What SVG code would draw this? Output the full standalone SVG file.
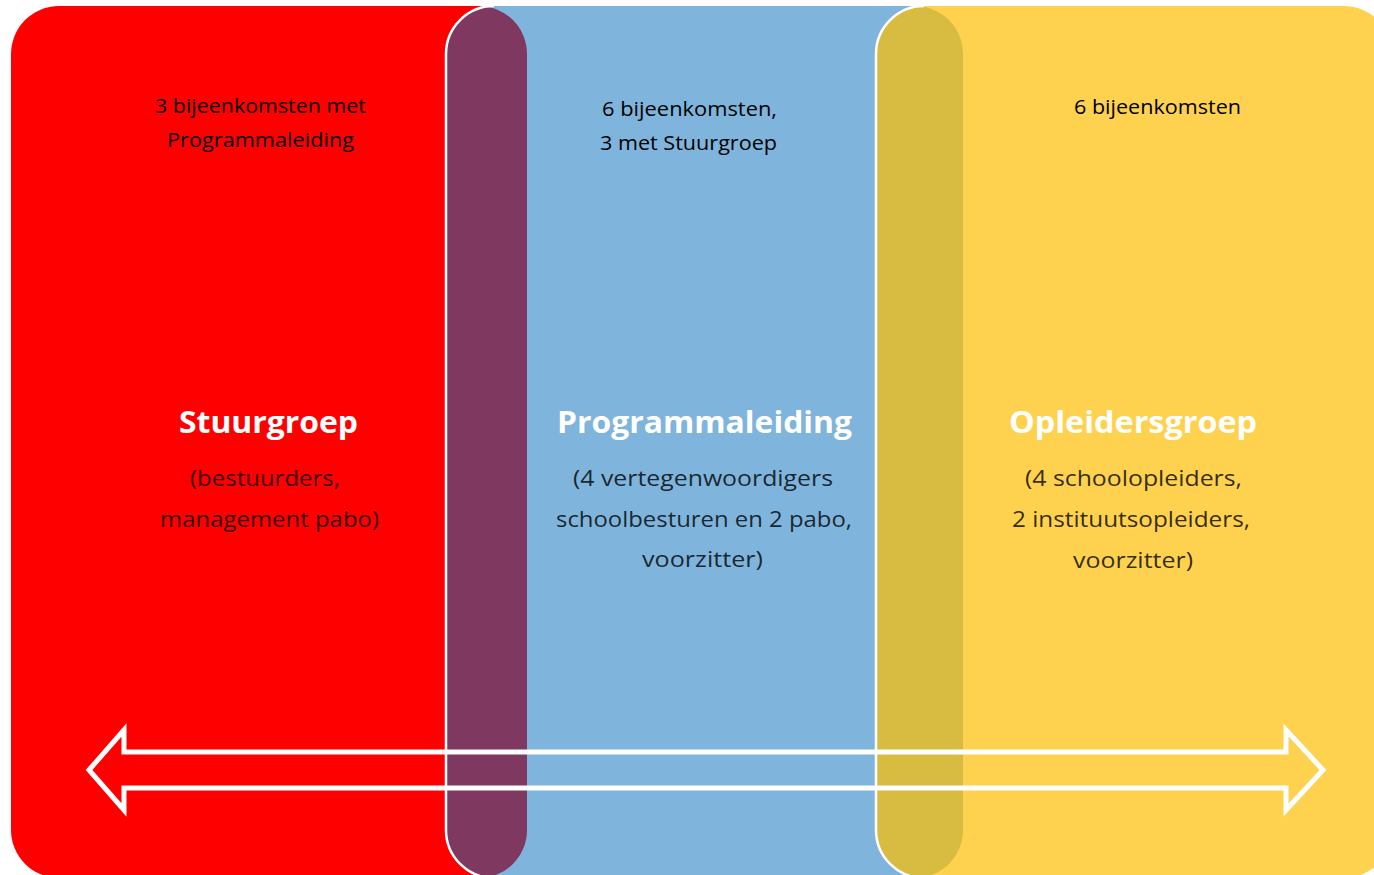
<svg xmlns="http://www.w3.org/2000/svg" width="1374" height="875" viewBox="0 0 1374 875">
  <style>
    .small { font-family: "Open Sans", "Liberation Sans", sans-serif; font-size: 20px; fill: #000; }
    .title { font-family: "Open Sans", "Liberation Sans", sans-serif; font-size: 30px; font-weight: bold; fill: #fff; }
    .sub { font-family: "Open Sans", "Liberation Sans", sans-serif; font-size: 22px; fill: #000; fill-opacity: 0.8; }
    .edge { fill: none; stroke: #fff; stroke-width: 2.5; }
  </style>
  <defs>
    <clipPath id="clipBlue">
      <rect x="446" y="6" width="517" height="872" rx="48" ry="48"/>
    </clipPath>
  </defs>
  <rect width="1374" height="875" fill="#fff"/>

  <g id="stuurgroep">
    <rect x="11" y="6" width="516" height="872" rx="48" ry="48" fill="#FF0000"/>
  </g>
  <g id="programmaleiding">
    <rect x="446" y="6" width="517" height="872" rx="48" ry="48" fill="#7FB4DC"/>
  </g>
  <g id="opleidersgroep">
    <rect x="876" y="6" width="516" height="872" rx="48" ry="48" fill="#FED24F"/>
  </g>
  <g id="overlaps">
    <rect x="11" y="6" width="516" height="872" rx="48" ry="48" fill="#7F3860" clip-path="url(#clipBlue)"/>
    <rect x="876" y="6" width="516" height="872" rx="48" ry="48" fill="#D8BC42" clip-path="url(#clipBlue)"/>
    <path class="edge" d="M494,6 A48,48 0 0 0 446,54 L446,830 A48,48 0 0 0 494,878"/>
    <path class="edge" d="M924,6 A48,48 0 0 0 876,54 L876,830 A48,48 0 0 0 924,878"/>
  </g>

  <g id="connectors">
    <path d="M89,770 L124,730 L124,752 L1286,752 L1286,730 L1323,770 L1286,810 L1286,788 L124,788 L124,810 Z" fill="none" stroke="#fff" stroke-width="5" stroke-linejoin="miter"/>
  </g>

  <g id="labels-stuurgroep">
    <text class="small" x="155" y="113" textLength="211" lengthAdjust="spacingAndGlyphs">3 bijeenkomsten met</text>
    <text class="small" x="167" y="147" textLength="187" lengthAdjust="spacingAndGlyphs">Programmaleiding</text>
    <text class="title" x="179" y="433" textLength="179" lengthAdjust="spacingAndGlyphs">Stuurgroep</text>
    <text class="sub" x="190" y="486" textLength="150" lengthAdjust="spacingAndGlyphs">(bestuurders,</text>
    <text class="sub" x="160" y="527" textLength="219" lengthAdjust="spacingAndGlyphs">management pabo)</text>
  </g>
  <g id="labels-programmaleiding">
    <text class="small" x="602" y="116" textLength="175" lengthAdjust="spacingAndGlyphs">6 bijeenkomsten,</text>
    <text class="small" x="600" y="150" textLength="177" lengthAdjust="spacingAndGlyphs">3 met Stuurgroep</text>
    <text class="title" x="557" y="433" textLength="295" lengthAdjust="spacingAndGlyphs">Programmaleiding</text>
    <text class="sub" x="573" y="486" textLength="260" lengthAdjust="spacingAndGlyphs">(4 vertegenwoordigers</text>
    <text class="sub" x="556" y="527" textLength="296" lengthAdjust="spacingAndGlyphs">schoolbesturen en 2 pabo,</text>
    <text class="sub" x="642" y="567" textLength="121" lengthAdjust="spacingAndGlyphs">voorzitter)</text>
  </g>
  <g id="labels-opleidersgroep">
    <text class="small" x="1074" y="114" textLength="167" lengthAdjust="spacingAndGlyphs">6 bijeenkomsten</text>
    <text class="title" x="1009" y="433" textLength="248" lengthAdjust="spacingAndGlyphs">Opleidersgroep</text>
    <text class="sub" x="1025" y="486" textLength="217" lengthAdjust="spacingAndGlyphs">(4 schoolopleiders,</text>
    <text class="sub" x="1012" y="527" textLength="238" lengthAdjust="spacingAndGlyphs">2 instituutsopleiders,</text>
    <text class="sub" x="1073" y="568" textLength="120" lengthAdjust="spacingAndGlyphs">voorzitter)</text>
  </g>
</svg>
